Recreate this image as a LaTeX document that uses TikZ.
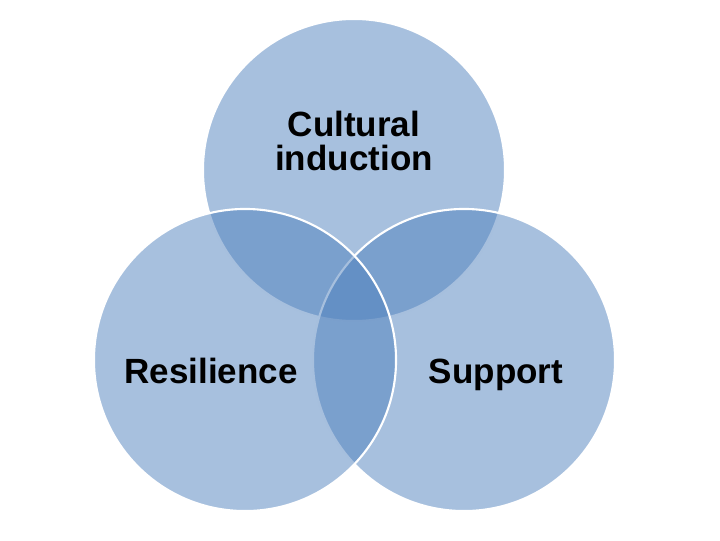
\documentclass[tikz,border=0pt]{standalone}
\usepackage{fontspec}
\setmainfont{Liberation Sans}
\usetikzlibrary{positioning}
\definecolor{azul}{HTML}{4F81BD}
\tikzset{
    circulo/.style={
        circle, minimum size=7.55cm, inner sep=0pt,
        draw=white, line width=1.5pt,
        fill=azul, fill opacity=0.5
    },
    etiqueta/.style={
        font=\fontsize{24.9}{23.6}\selectfont\bfseries,
        align=center, text=black
    }
}

\begin{document}
\begin{tikzpicture}[x=0.025cm, y=-0.025cm]

    \useasboundingbox (0,0) rectangle (720,540);

    % top, then right, then left
    \node[circulo] (cultura) at (354,170) {};
    \node[circulo] (apoyo)   at (464,360) {};
    \node[circulo] (resil)   at (245,360) {};

    \node[etiqueta] (tcultura) at (354,141) {Cultural\\induction};
    \node[etiqueta, anchor=base] (tresil) at (211,383) {Resilience};
    \node[etiqueta, anchor=base] (tapoyo) at (496,383) {Support};

\end{tikzpicture}
\end{document}
